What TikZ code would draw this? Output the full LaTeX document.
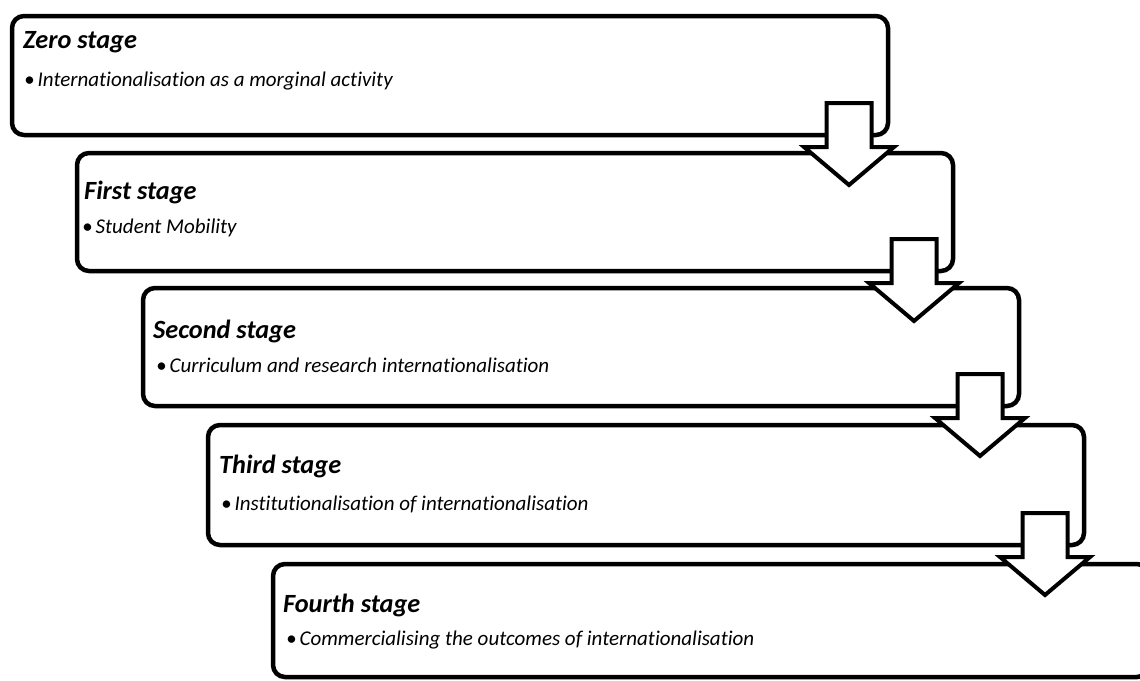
\documentclass[tikz,border=0pt]{standalone}
\usepackage{fontspec}
\setmainfont{Carlito}[Ligatures=NoCommon]
\usetikzlibrary{calc}
\begin{document}
\begin{tikzpicture}[x=1pt,y=-1pt,
  stagebox/.style={draw=black, line width=4.5pt, rounded corners=12pt, fill=white,
    minimum width=876pt, anchor=north west, inner sep=0pt, outer sep=0pt},
  stagetitle/.style={anchor=base west, inner sep=0pt,
    font=\fontsize{26.3}{30}\selectfont\bfseries\itshape},
  stageitem/.style={anchor=base west, inner sep=0pt,
    font=\fontsize{21}{24}\selectfont\itshape},
  downarrow/.style={draw=black, line width=4pt, fill=white, line join=miter}
]
\clip (0,0) rectangle (1140,680);
\fill[white] (0,0) rectangle (1140,680);

% the five stage boxes, each shifted right and down from the previous one
\node[stagebox, minimum height=119pt] (s0) at (12,16) {};
\node[stagebox, minimum height=118pt] (s1) at (77,153) {};
\node[stagebox, minimum height=118pt] (s2) at (143,288) {};
\node[stagebox, minimum height=120pt] (s3) at (208,425) {};
\node[stagebox, minimum height=113pt] (s4) at (273,564) {};

% titles and bullet items
\node[stagetitle] (t0) at ($(s0.north west)+(11,32)$) {Zero stage};
\node[stageitem]  (i0) at ($(s0.north west)+(12,70)$) {•\hspace{3pt}Internationalisation as a morginal activity};
\node[stagetitle] (t1) at ($(s1.north west)+(7,46)$) {First stage};
\node[stageitem]  (i1) at ($(s1.north west)+(5,80)$) {•\hspace{3pt}Student Mobility};
\node[stagetitle] (t2) at ($(s2.north west)+(10,50)$) {Second stage};
\node[stageitem]  (i2) at ($(s2.north west)+(13,84)$) {•\hspace{3pt}Curriculum and research internationalisation};
\node[stagetitle] (t3) at ($(s3.north west)+(11,48)$) {Third stage};
\node[stageitem]  (i3) at ($(s3.north west)+(13,85)$) {•\hspace{3pt}Institutionalisation of internationalisation};
\node[stagetitle] (t4) at ($(s4.north west)+(10,48)$) {Fourth stage};
\node[stageitem]  (i4) at ($(s4.north west)+(13,81)$) {•\hspace{3pt}Commercialising the outcomes of internationalisation};

% block arrows leading from each stage down into the next one
\foreach \b in {0,1,2,3} {
  \coordinate (k\b) at ($(s\b.south east)+(-39,0)$);
  \draw[downarrow] ($(k\b)+(-22.5,-32)$) -- ($(k\b)+(22.5,-32)$)
    -- ($(k\b)+(22.5,12)$) -- ($(k\b)+(45,12)$) -- ($(k\b)+(0,50)$)
    -- ($(k\b)+(-45,12)$) -- ($(k\b)+(-22.5,12)$) -- cycle;
}
\end{tikzpicture}
\end{document}
